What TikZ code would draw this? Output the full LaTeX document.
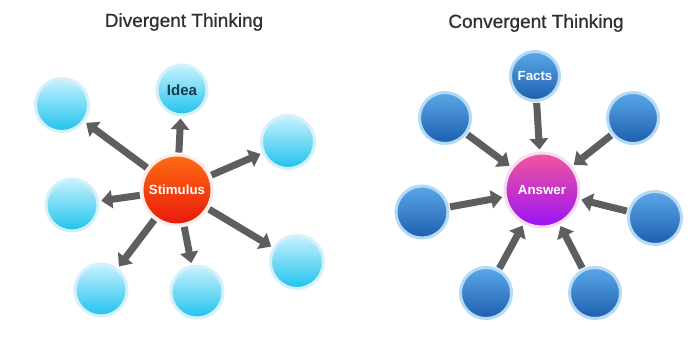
\documentclass[tikz,border=0pt]{standalone}
\usepackage{fontspec}
\setmainfont{Liberation Sans}
\newfontfamily\titlefont[FakeBold=0.7]{Liberation Sans}
\usetikzlibrary{arrows.meta}
\definecolor{lbtop}{HTML}{C8F2FD}
\definecolor{lbbot}{HTML}{1EC2EE}
\definecolor{lbhalo}{HTML}{D6F0FA}
\definecolor{dbtop}{HTML}{5BA7E8}
\definecolor{dbbot}{HTML}{1C5FAE}
\definecolor{dbhalo}{HTML}{B4DAF5}
\definecolor{sttop}{HTML}{FF6C12}
\definecolor{stbot}{HTML}{E8180C}
\definecolor{sthalo}{HTML}{FBECE8}
\definecolor{antop}{HTML}{F2579B}
\definecolor{anbot}{HTML}{9A12F6}
\definecolor{anhalo}{HTML}{F6DDF2}
\definecolor{arrgray}{HTML}{5E5E5E}
\definecolor{titlegray}{HTML}{303030}
\definecolor{ideatext}{HTML}{163A4E}
\begin{document}
\begin{tikzpicture}[x=1pt,y=-1pt,
  bubble/.style={circle, line width=3pt, inner sep=0pt, minimum size=#1,
    font=\fontsize{13.3}{15}\selectfont\bfseries},
  lightball/.style={bubble=#1, draw=lbhalo, top color=lbtop, bottom color=lbbot},
  darkball/.style={bubble=#1, draw=dbhalo, top color=dbtop, bottom color=dbbot, text=white},
  stimball/.style={bubble=#1, draw=sthalo, top color=sttop, bottom color=stbot, text=white},
  ansball/.style={bubble=#1, draw=anhalo, top color=antop, bottom color=anbot, text=white},
  arr/.style={-{Triangle[width=18pt,length=11pt]}, line width=7pt, draw=arrgray,
    shorten >=2pt, shorten <=1pt},
  title/.style={text=titlegray, font=\titlefont\fontsize{19}{22}\selectfont}
]
\useasboundingbox (0,0) rectangle (699,340);
\fill[white] (0,0) rectangle (699,340);

% ---------- Divergent ----------
\node[title] (tdiv) at (184,22) {Divergent Thinking};
\node[stimball=70pt] (stim) at (177,190) {Stimulus};
\node[lightball=50pt, text=ideatext, font=\fontsize{15}{17}\selectfont\bfseries] (idea) at (182,90) {Idea};
\node[lightball=53pt] (d1) at (62,105) {};
\node[lightball=53pt] (d2) at (288,142) {};
\node[lightball=52pt] (d3) at (72,205) {};
\node[lightball=53pt] (d4) at (297,262) {};
\node[lightball=52pt] (d5) at (101,290) {};
\node[lightball=52pt] (d6) at (197,292) {};
\foreach \t in {idea,d1,d2,d3,d4,d5,d6}
  \draw[arr] (stim) -- (\t);

% ---------- Convergent ----------
\node[title] (tcon) at (536,23) {Convergent Thinking};
\node[ansball=74pt] (ans) at (542,190) {Answer};
\node[darkball=49pt] (facts) at (535,76) {Facts};
\node[darkball=51pt] (c1) at (445,118) {};
\node[darkball=51pt] (c2) at (633,118) {};
\node[darkball=52pt] (c3) at (422,212) {};
\node[darkball=53pt] (c4) at (655,218) {};
\node[darkball=51pt] (c5) at (486,293) {};
\node[darkball=51pt] (c6) at (595,293) {};
\foreach \s in {facts,c1,c2,c3,c4,c5,c6}
  \draw[arr] (\s) -- (ans);
\end{tikzpicture}
\end{document}
